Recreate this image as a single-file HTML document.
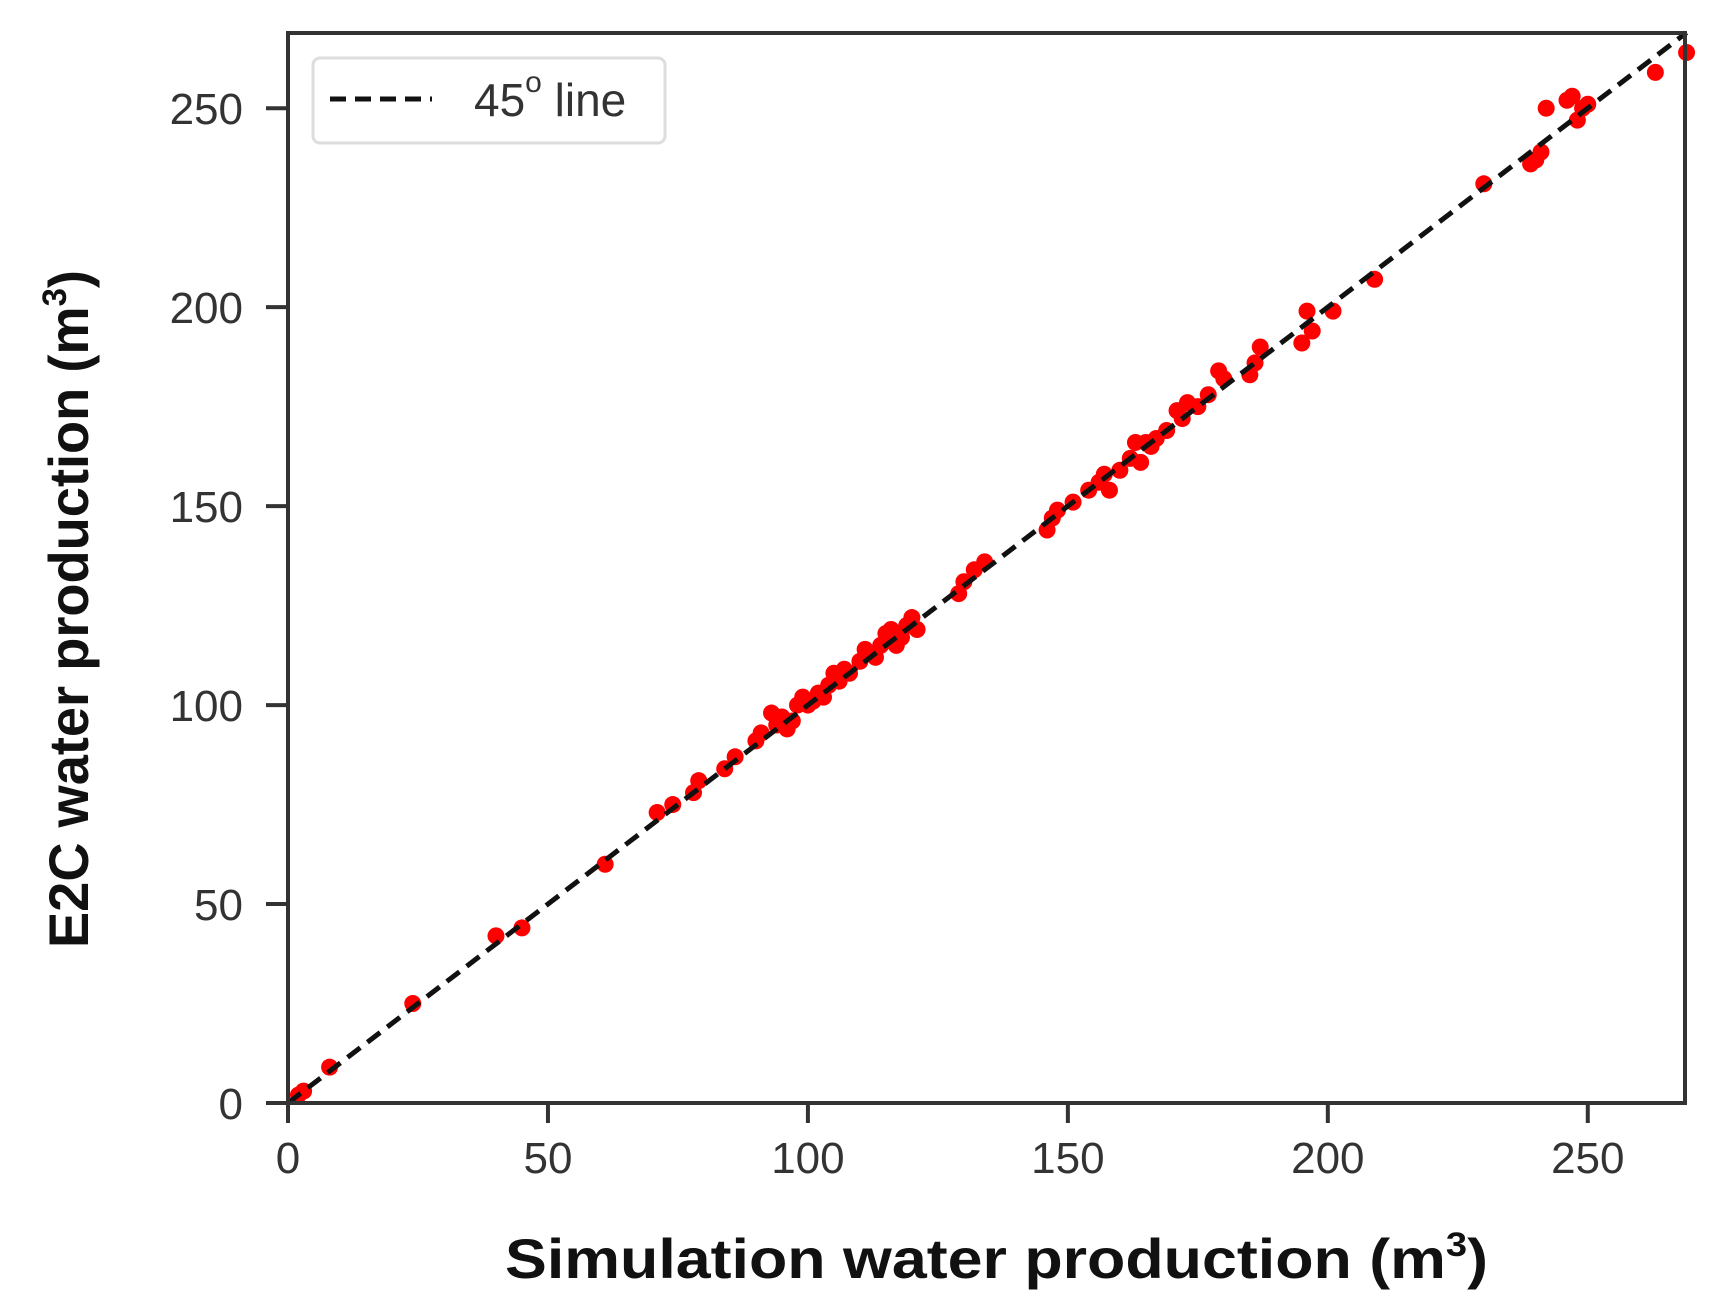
<!DOCTYPE html>
<html><head><meta charset="utf-8"><style>
html,body{margin:0;padding:0;background:#fff;}
svg{display:block;}
text{font-family:"Liberation Sans",Arial,sans-serif;}
</style></head><body>
<svg id="chart" width="1719" height="1301" viewBox="0 0 1719 1301" xmlns="http://www.w3.org/2000/svg">
<rect x="0" y="0" width="1719" height="1301" fill="#fff"/>
<g id="ticks"></g>
<g id="points"></g>
<g id="diag"></g>
<rect x="288" y="33" width="1397" height="1070" fill="none" stroke="#333" stroke-width="4"/>
<g>
<rect x="313" y="58" width="352" height="85" rx="7" fill="#fff" stroke="#ddd" stroke-width="3"/>
<line x1="330" y1="99" x2="432" y2="99" stroke="#111" stroke-width="5" stroke-dasharray="16,9"/>
<text x="474" y="116" font-size="46" fill="#333">45<tspan dy="-24" font-size="30">o</tspan><tspan dy="24"> line</tspan></text>
</g>
<text x="505" y="1278" font-size="56" font-weight="bold" fill="#111" textLength="983" lengthAdjust="spacingAndGlyphs">Simulation water production (m<tspan dy="-22" font-size="34">3</tspan><tspan dy="22">)</tspan></text>
<text transform="translate(88,948) rotate(-90)" font-size="56" font-weight="bold" fill="#111" textLength="678" lengthAdjust="spacingAndGlyphs">E2C water production (m<tspan dy="-22" font-size="34">3</tspan><tspan dy="22">)</tspan></text>
</svg>
<script>
const xTicks = [0, 50, 100, 150, 200, 250];
const yTicks = [0, 50, 100, 150, 200, 250];
const simX = [2,3,8,24,40,45,61,71,74,78,79,84,86,90,91,93,94,95,96,97,98,99,100,101,102,103,104,105,106,107,108,110,111,112,113,114,115,116,117,118,119,120,121,129,130,132,134,146,147,148,151,154,156,157,158,160,162,163,164,165,166,167,169,171,172,173,175,177,179,180,185,186,187,195,196,197,201,209,230,239,240,241,242,246,247,248,249,250,263,269];
const e2cY = [2,3,9,25,42,44,60,73,75,78,81,84,87,91,93,98,95,97,94,96,100,102,100,101,103,102,105,108,106,109,108,111,114,113,112,115,118,119,115,117,120,122,119,128,131,134,136,144,147,149,151,154,156,158,154,159,162,166,161,166,165,167,169,174,172,176,175,178,184,182,183,186,190,191,199,194,199,207,231,236,237,239,250,252,253,247,250,251,259,264];
const diagLine = [0, 269];
const X0=288, X1=1685, Y0=1103, Y1=33, MAXX=268.7, MAXY=268.9;
function sx(v){return X0+(X1-X0)*v/MAXX;}
function sy(v){return Y0-(Y0-Y1)*v/MAXY;}
const NS="http://www.w3.org/2000/svg";
const tg=document.getElementById('ticks');
xTicks.forEach(t=>{
  const l=document.createElementNS(NS,'line');
  l.setAttribute('x1',sx(t));l.setAttribute('x2',sx(t));l.setAttribute('y1',Y0);l.setAttribute('y2',Y0+20);
  l.setAttribute('stroke','#333');l.setAttribute('stroke-width','4');
  
  
  tg.appendChild(l);
  const tx=document.createElementNS(NS,'text');
  tx.setAttribute('x',sx(t));tx.setAttribute('y',1173);tx.setAttribute('font-size','44');tx.setAttribute('fill','#333');tx.setAttribute('text-anchor','middle');
  tx.textContent=t;
  
  
  tg.appendChild(tx);
});
yTicks.forEach(t=>{
  const l=document.createElementNS(NS,'line');
  l.setAttribute('x1',X0-22);l.setAttribute('x2',X0);l.setAttribute('y1',sy(t));l.setAttribute('y2',sy(t));
  l.setAttribute('stroke','#333');l.setAttribute('stroke-width','4');
  
  
  tg.appendChild(l);
  const tx=document.createElementNS(NS,'text');
  tx.setAttribute('x',243);tx.setAttribute('y',sy(t)+16);tx.setAttribute('font-size','44');tx.setAttribute('fill','#333');tx.setAttribute('text-anchor','end');
  tx.textContent=t;
  
  
  tg.appendChild(tx);
});
const pg=document.getElementById('points');
simX.forEach((v,i)=>{
  const c=document.createElementNS(NS,'circle');
  c.setAttribute('cx',sx(v));c.setAttribute('cy',sy(e2cY[i]));c.setAttribute('r','8.5');c.setAttribute('fill','#ff0000');
  
  
  pg.appendChild(c);
});
const dg=document.getElementById('diag');
const dl=document.createElementNS(NS,'line');
dl.setAttribute('x1',sx(diagLine[0]));dl.setAttribute('y1',sy(diagLine[0]));dl.setAttribute('x2',sx(diagLine[1]));dl.setAttribute('y2',sy(diagLine[1]));
dl.setAttribute('stroke','#111');dl.setAttribute('stroke-width','5');dl.setAttribute('stroke-dasharray','16,9');


dg.appendChild(dl);
</script>
</body></html>
